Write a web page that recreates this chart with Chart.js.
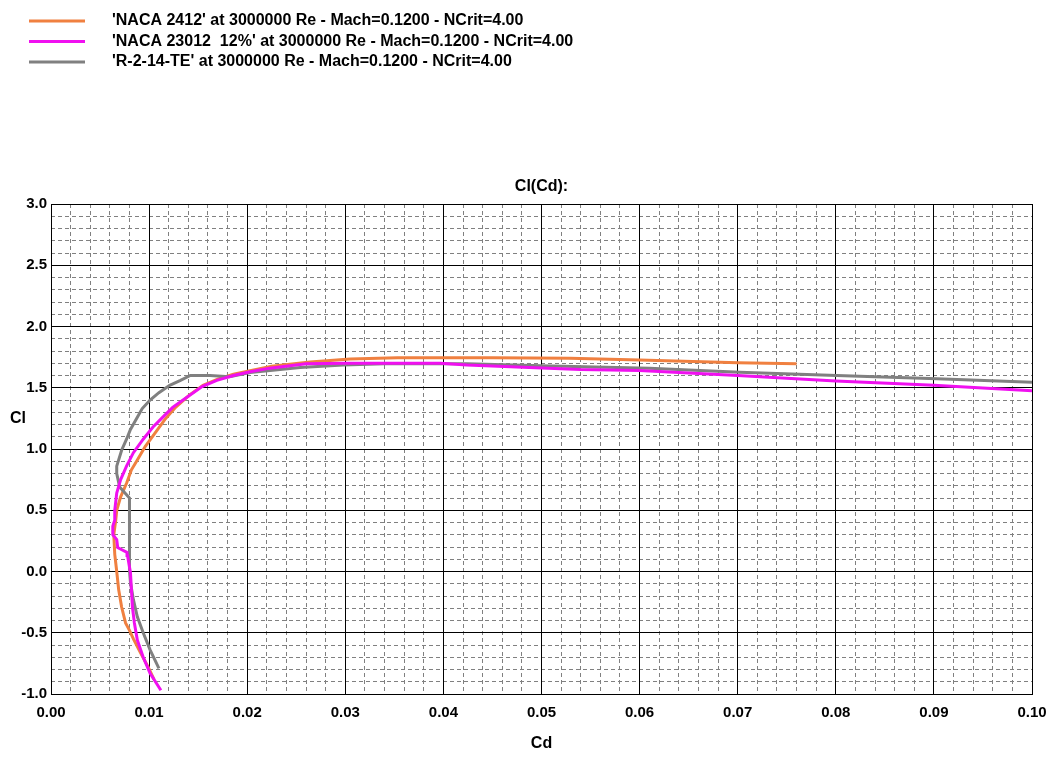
<!DOCTYPE html>
<html><head><meta charset="utf-8">
<script src="https://cdn.jsdelivr.net/npm/chart.js@4/dist/chart.umd.min.js"></script>
<style>html,body{margin:0;padding:0;background:#fff;} #wrap{position:relative;width:1055px;height:764px;}</style>
</head><body><div id="wrap"><canvas id="c"></canvas></div>
<script>
const chartTitle = 'Cl(Cd):';
const xAxisTitle = 'Cd';
const yAxisTitle = 'Cl';
const seriesNames = [
  "'NACA 2412' at 3000000 Re - Mach=0.1200 - NCrit=4.00",
  "'NACA 23012  12%' at 3000000 Re - Mach=0.1200 - NCrit=4.00",
  "'R-2-14-TE' at 3000000 Re - Mach=0.1200 - NCrit=4.00"
];
const seriesColors = ['rgb(240,128,64)', 'rgb(240,16,240)', 'rgb(128,128,128)'];

const xMajorTicks = [0.00, 0.01, 0.02, 0.03, 0.04, 0.05, 0.06, 0.07, 0.08, 0.09, 0.10];
const yMajorTicks = [-1.0, -0.5, 0.0, 0.5, 1.0, 1.5, 2.0, 2.5, 3.0];

const naca2412Cd = [0.0105,0.0099,0.0091,0.0084,0.0080,0.0076,0.0072,0.0069,0.0067,0.0065,0.0064,0.0066,0.0067,0.0071,0.0077,0.0082,0.0088,0.0096,0.0106,0.0116,0.0127,0.0141,0.0155,0.0170,0.0186,0.0203,0.0225,0.0264,0.0305,0.0353,0.0450,0.0529,0.0600,0.0700,0.0760];
const naca2412Cl = [-0.88,-0.78,-0.66,-0.55,-0.48,-0.42,-0.29,-0.15,0.00,0.14,0.30,0.42,0.50,0.61,0.72,0.83,0.91,1.02,1.13,1.24,1.34,1.44,1.52,1.57,1.61,1.64,1.675,1.71,1.735,1.745,1.745,1.74,1.727,1.705,1.695];

const naca23012Cd = [0.0112,0.0101,0.0094,0.0088,0.0085,0.0083,0.0082,0.0081,0.0078,0.00775,0.0068,0.0067,0.0063,0.0063,0.0065,0.0065,0.0067,0.0071,0.0077,0.0084,0.0094,0.0104,0.0114,0.0124,0.0140,0.0154,0.0169,0.0186,0.0203,0.0223,0.0260,0.0300,0.0397,0.0424,0.0500,0.0540,0.0600,0.0700,0.0800,0.0900,0.1000];
const naca23012Cl = [-0.97,-0.83,-0.70,-0.56,-0.42,-0.29,-0.15,-0.01,0.13,0.155,0.195,0.26,0.30,0.37,0.42,0.50,0.64,0.75,0.86,0.97,1.08,1.18,1.26,1.34,1.43,1.51,1.56,1.60,1.63,1.66,1.695,1.70,1.70,1.686,1.661,1.648,1.64,1.60,1.556,1.52,1.475];

const r214Cd = [0.0110,0.0101,0.0094,0.0088,0.0084,0.0081,0.0080,0.0080,0.0080,0.0070,0.0067,0.0067,0.0072,0.0077,0.0081,0.0088,0.0093,0.0101,0.0110,0.0121,0.0132,0.0142,0.0162,0.0182,0.0203,0.0254,0.0298,0.0340,0.0424,0.0500,0.0610,0.0702,0.0801,0.0903,0.1000];
const r214Cl = [-0.79,-0.64,-0.50,-0.37,-0.23,-0.09,0.01,0.26,0.60,0.69,0.80,0.86,0.99,1.08,1.16,1.26,1.33,1.40,1.46,1.52,1.56,1.60,1.60,1.59,1.625,1.665,1.686,1.695,1.695,1.68,1.66,1.627,1.60,1.573,1.545];

const seriesCd = [naca2412Cd, naca23012Cd, r214Cd];
const seriesCl = [naca2412Cl, naca23012Cl, r214Cl];
const seriesOrder = [2, 0, 1];

const FONT = '"Liberation Sans", Arial, sans-serif';
Chart.defaults.font.family = FONT;
Chart.defaults.font.size = 15;
Chart.defaults.font.weight = 'bold';
Chart.defaults.color = '#000';

const datasets = seriesNames.map((name, i) => ({
  label: name,
  data: seriesCd[i].map((cd, j) => ({x: cd, y: seriesCl[i][j]})),
  borderColor: seriesColors[i],
  backgroundColor: seriesColors[i],
  borderWidth: 3,
  showLine: true,
  pointRadius: 0,
  tension: 0,
  order: seriesOrder[i],
  xAxisID: 'x',
  yAxisID: 'y'
}));

const overlay = {
  id: 'overlay',
  afterDraw(chart) {
    const ctx = chart.ctx;
    const ca = chart.chartArea;
    ctx.save();
    ctx.font = 'bold 16px ' + FONT;
    ctx.textBaseline = 'middle';
    chart.data.datasets.forEach((ds, i) => {
      const y = 21 + i * 20.5;
      ctx.strokeStyle = ds.borderColor;
      ctx.lineWidth = 3;
      ctx.beginPath();
      ctx.moveTo(29, y);
      ctx.lineTo(85, y);
      ctx.stroke();
      ctx.fillStyle = '#000';
      ctx.textAlign = 'left';
      ctx.fillText(ds.label, 112, y);
    });
    ctx.textAlign = 'left';
    ctx.fillText(yAxisTitle, 10, 419);
    ctx.textAlign = 'center';
    ctx.fillText(chartTitle, (ca.left + ca.right) / 2, 186.5);
    ctx.restore();
  }
};

new Chart(document.getElementById('c'), {
  type: 'scatter',
  data: {datasets},
  options: {
    responsive: true,
    maintainAspectRatio: false,
    animation: false,
    events: [],
    layout: {padding: {left: 0, right: 23, top: 204, bottom: 0}},
    plugins: {
      legend: {display: false},
      tooltip: {enabled: false},
      title: {display: false}
    },
    scales: {
      x2: {
        type: 'linear', position: 'bottom', min: 0, max: 0.1, z: -1,
        ticks: {display: false, stepSize: 0.002, autoSkip: false},
        grid: {color: '#808080', lineWidth: 1, drawTicks: false},
        border: {display: false, dash: [4, 3]},
        afterFit(s) { s.height = 0; s.paddingLeft = 0; s.paddingRight = 0; }
      },
      y2: {
        type: 'linear', position: 'left', min: -1, max: 3, z: -1,
        ticks: {display: false, stepSize: 0.1, autoSkip: false},
        grid: {color: '#808080', lineWidth: 1, drawTicks: false},
        border: {display: false, dash: [4, 3]},
        afterFit(s) { s.width = 0; s.paddingTop = 0; s.paddingBottom = 0; }
      },
      x: {
        type: 'linear', position: 'bottom', min: 0, max: 0.1,
        afterBuildTicks(s) { s.ticks = xMajorTicks.map(v => ({value: v})); },
        ticks: {autoSkip: false, maxRotation: 0, padding: 10, color: '#000', font: {size: 15, weight: 'bold'},
          callback: v => Number(v).toFixed(2)},
        grid: {color: '#000', lineWidth: 1, drawTicks: false},
        border: {display: true, color: '#000', width: 1},
        title: {display: true, text: xAxisTitle, color: '#000', font: {size: 16, weight: 'bold'}, padding: {top: 4, bottom: 10.4}},
        afterFit(s) { s.height = 70; s.paddingLeft = 0; s.paddingRight = 0; }
      },
      y: {
        type: 'linear', position: 'left', min: -1, max: 3,
        afterBuildTicks(s) { s.ticks = yMajorTicks.map(v => ({value: v})); },
        ticks: {autoSkip: false, padding: 4, color: '#000', font: {size: 15, weight: 'bold'},
          callback: v => Number(v).toFixed(1)},
        grid: {color: '#000', lineWidth: 1, drawTicks: false},
        border: {display: true, color: '#000', width: 1},
        afterFit(s) { s.width = 51; s.paddingTop = 0; s.paddingBottom = 0; }
      }
    }
  },
  plugins: [overlay]
});
</script></body></html>
